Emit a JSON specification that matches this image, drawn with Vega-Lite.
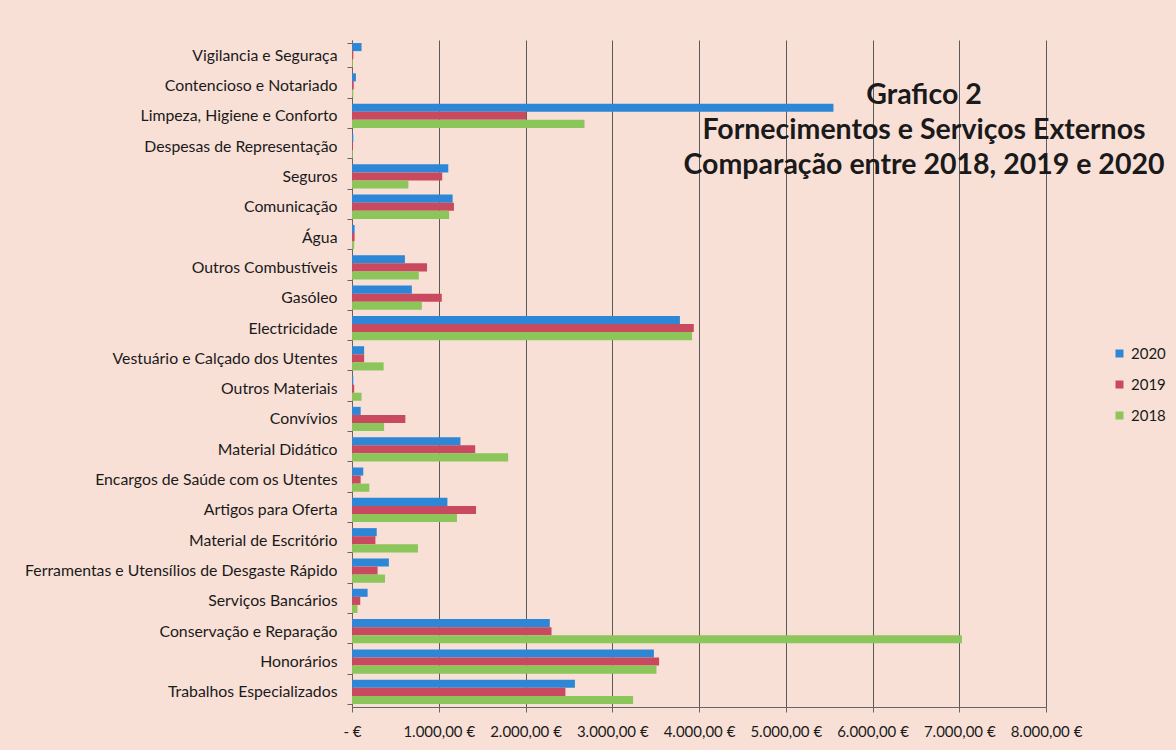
{
  "$schema": "https://vega.github.io/schema/vega-lite/v6.json",
  "width": 694,
  "height": 667,
  "autosize": {"type": "none"},
  "padding": {"left": 352, "top": 40, "right": 130, "bottom": 43},
  "background": "#f8e0d7",
  "title": {
    "text": ["Grafico 2", "Fornecimentos e Serviços Externos", "Comparação entre 2018, 2019 e 2020"],
    "anchor": "middle",
    "align": "center",
    "baseline": "top",
    "font": "Lato",
    "fontSize": 28.5,
    "fontWeight": "bold",
    "color": "#1a1a1a",
    "lineHeight": 35,
    "offset": 0,
    "dx": 225,
    "dy": 147
  },
  "data": {
    "values": [
      {"categoria": "Vigilancia e Seguraça", "ano": "2020", "valor": 110},
      {"categoria": "Vigilancia e Seguraça", "ano": "2019", "valor": 15},
      {"categoria": "Vigilancia e Seguraça", "ano": "2018", "valor": 10},
      {"categoria": "Contencioso e Notariado", "ano": "2020", "valor": 45},
      {"categoria": "Contencioso e Notariado", "ano": "2019", "valor": 20},
      {"categoria": "Contencioso e Notariado", "ano": "2018", "valor": 15},
      {"categoria": "Limpeza, Higiene e Conforto", "ano": "2020", "valor": 5550},
      {"categoria": "Limpeza, Higiene e Conforto", "ano": "2019", "valor": 2010},
      {"categoria": "Limpeza, Higiene e Conforto", "ano": "2018", "valor": 2680},
      {"categoria": "Despesas de Representação", "ano": "2020", "valor": 15},
      {"categoria": "Despesas de Representação", "ano": "2019", "valor": 10},
      {"categoria": "Despesas de Representação", "ano": "2018", "valor": 10},
      {"categoria": "Seguros", "ano": "2020", "valor": 1110},
      {"categoria": "Seguros", "ano": "2019", "valor": 1040},
      {"categoria": "Seguros", "ano": "2018", "valor": 650},
      {"categoria": "Comunicação", "ano": "2020", "valor": 1160},
      {"categoria": "Comunicação", "ano": "2019", "valor": 1175},
      {"categoria": "Comunicação", "ano": "2018", "valor": 1120},
      {"categoria": "Água", "ano": "2020", "valor": 30},
      {"categoria": "Água", "ano": "2019", "valor": 30},
      {"categoria": "Água", "ano": "2018", "valor": 25},
      {"categoria": "Outros Combustíveis", "ano": "2020", "valor": 610},
      {"categoria": "Outros Combustíveis", "ano": "2019", "valor": 865},
      {"categoria": "Outros Combustíveis", "ano": "2018", "valor": 770},
      {"categoria": "Gasóleo", "ano": "2020", "valor": 690},
      {"categoria": "Gasóleo", "ano": "2019", "valor": 1035},
      {"categoria": "Gasóleo", "ano": "2018", "valor": 805},
      {"categoria": "Electricidade", "ano": "2020", "valor": 3780},
      {"categoria": "Electricidade", "ano": "2019", "valor": 3940},
      {"categoria": "Electricidade", "ano": "2018", "valor": 3920},
      {"categoria": "Vestuário e Calçado dos Utentes", "ano": "2020", "valor": 140},
      {"categoria": "Vestuário e Calçado dos Utentes", "ano": "2019", "valor": 140},
      {"categoria": "Vestuário e Calçado dos Utentes", "ano": "2018", "valor": 365},
      {"categoria": "Outros Materiais", "ano": "2020", "valor": 15},
      {"categoria": "Outros Materiais", "ano": "2019", "valor": 25},
      {"categoria": "Outros Materiais", "ano": "2018", "valor": 110},
      {"categoria": "Convívios", "ano": "2020", "valor": 100},
      {"categoria": "Convívios", "ano": "2019", "valor": 615},
      {"categoria": "Convívios", "ano": "2018", "valor": 370},
      {"categoria": "Material Didático", "ano": "2020", "valor": 1250},
      {"categoria": "Material Didático", "ano": "2019", "valor": 1420},
      {"categoria": "Material Didático", "ano": "2018", "valor": 1800},
      {"categoria": "Encargos de Saúde com os Utentes", "ano": "2020", "valor": 130},
      {"categoria": "Encargos de Saúde com os Utentes", "ano": "2019", "valor": 100},
      {"categoria": "Encargos de Saúde com os Utentes", "ano": "2018", "valor": 200},
      {"categoria": "Artigos para Oferta", "ano": "2020", "valor": 1100},
      {"categoria": "Artigos para Oferta", "ano": "2019", "valor": 1430},
      {"categoria": "Artigos para Oferta", "ano": "2018", "valor": 1210},
      {"categoria": "Material de Escritório", "ano": "2020", "valor": 285},
      {"categoria": "Material de Escritório", "ano": "2019", "valor": 270},
      {"categoria": "Material de Escritório", "ano": "2018", "valor": 760},
      {"categoria": "Ferramentas e Utensílios de Desgaste Rápido", "ano": "2020", "valor": 425},
      {"categoria": "Ferramentas e Utensílios de Desgaste Rápido", "ano": "2019", "valor": 295},
      {"categoria": "Ferramentas e Utensílios de Desgaste Rápido", "ano": "2018", "valor": 380},
      {"categoria": "Serviços Bancários", "ano": "2020", "valor": 180},
      {"categoria": "Serviços Bancários", "ano": "2019", "valor": 95},
      {"categoria": "Serviços Bancários", "ano": "2018", "valor": 63},
      {"categoria": "Conservação e Reparação", "ano": "2020", "valor": 2280},
      {"categoria": "Conservação e Reparação", "ano": "2019", "valor": 2300},
      {"categoria": "Conservação e Reparação", "ano": "2018", "valor": 7030},
      {"categoria": "Honorários", "ano": "2020", "valor": 3480},
      {"categoria": "Honorários", "ano": "2019", "valor": 3540},
      {"categoria": "Honorários", "ano": "2018", "valor": 3510},
      {"categoria": "Trabalhos Especializados", "ano": "2020", "valor": 2570},
      {"categoria": "Trabalhos Especializados", "ano": "2019", "valor": 2460},
      {"categoria": "Trabalhos Especializados", "ano": "2018", "valor": 3240}
    ]
  },
  "mark": {"type": "bar"},
  "encoding": {
    "y": {
      "field": "categoria",
      "type": "nominal",
      "sort": null,
      "scale": {"paddingInner": 0.2, "paddingOuter": 0.1},
      "axis": {
        "title": null,
        "labelFont": "Lato",
        "labelFontSize": 15.8,
        "labelColor": "#1a1a1a",
        "labelPadding": 10,
        "tickBand": "extent",
        "tickSize": 5,
        "tickColor": "#666666",
        "domainColor": "#666666",
        "labelLimit": 400
      }
    },
    "yOffset": {
      "field": "ano",
      "type": "nominal",
      "sort": ["2020", "2019", "2018"],
      "scale": {"paddingInner": 0, "paddingOuter": 0}
    },
    "x": {
      "field": "valor",
      "type": "quantitative",
      "scale": {"domain": [0, 8000], "nice": false},
      "axis": {
        "title": null,
        "values": [0, 1000, 2000, 3000, 4000, 5000, 6000, 7000, 8000],
        "format": ",.2f",
        "labelExpr": "datum.value === 0 ? '-   €' : datum.label + ' €'",
        "labelOverlap": false,
        "labelFlush": false,
        "labelBound": false,
        "labelFont": "Lato",
        "labelFontSize": 15,
        "labelColor": "#1a1a1a",
        "labelPadding": 12,
        "grid": true,
        "gridColor": "#5a5a5a",
        "gridWidth": 1,
        "tickColor": "#666666",
        "domainColor": "#666666"
      }
    },
    "color": {
      "field": "ano",
      "type": "nominal",
      "scale": {"domain": ["2020", "2019", "2018"], "range": ["#2e86d6", "#c94a5f", "#8cc55a"]},
      "legend": {
        "title": null,
        "orient": "none",
        "legendX": 760,
        "legendY": 306,
        "symbolType": "square",
        "symbolSize": 64,
        "symbolStrokeWidth": 0,
        "labelFont": "Lato",
        "labelFontSize": 15,
        "labelColor": "#1a1a1a",
        "rowPadding": 15
      }
    }
  },
  "config": {
    "locale": {
      "number": {"decimal": ",", "thousands": ".", "grouping": [3], "currency": ["", " €"]}
    },
    "view": {"stroke": null}
  }
}
